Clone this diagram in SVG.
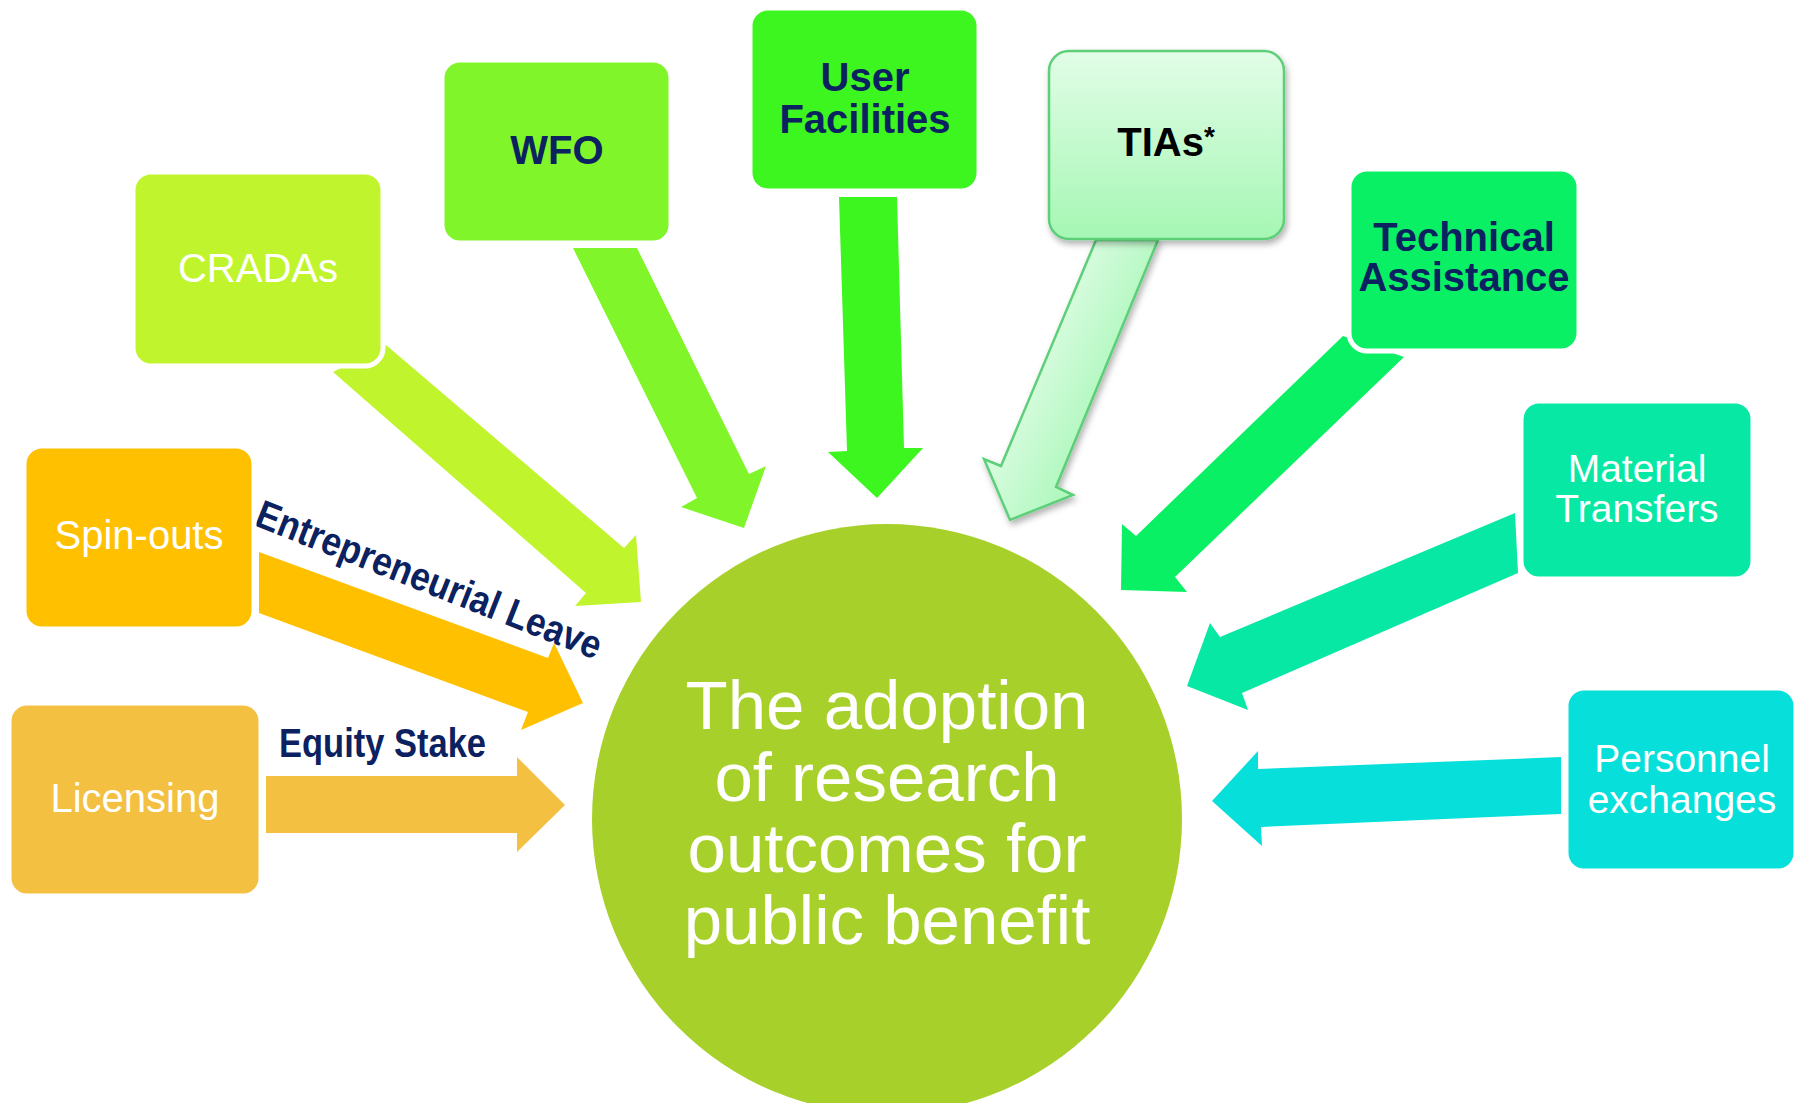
<svg xmlns="http://www.w3.org/2000/svg" width="1799" height="1103" viewBox="0 0 1799 1103">
  <defs>
    <linearGradient id="tiaBox" x1="0" y1="0" x2="0" y2="1">
      <stop offset="0" stop-color="#E2FDE7"/>
      <stop offset="1" stop-color="#A5F7B4"/>
    </linearGradient>
    <linearGradient id="tiaArrow" gradientUnits="userSpaceOnUse" x1="1000" y1="330" x2="1110" y2="380">
      <stop offset="0" stop-color="#EEFEF1"/>
      <stop offset="1" stop-color="#B2F8C0"/>
    </linearGradient>
    <filter id="shadow" x="-10%" y="-10%" width="130%" height="130%">
      <feDropShadow dx="2" dy="4" stdDeviation="3" flood-color="#000" flood-opacity="0.3"/>
    </filter>
  </defs>
  <style>
    .box { stroke: #FFFFFF; stroke-width: 5; }
    .lbl { font-family: "Liberation Sans", Arial, sans-serif; font-size: 40px; text-anchor: middle; }
    .light { fill: #FFFFFF; }
    .dark { fill: #0B2160; font-weight: bold; }
    .goal-text { font-size: 69px; }
    .small { font-size: 39px; }
    .tag { font-family: "Liberation Sans Narrow", "Liberation Sans", Arial, sans-serif; font-weight: bold; fill: #0B2160; }
  </style>

  <rect width="1799" height="1103" fill="#FFFFFF"/>

  <!-- block arrows pointing into the centre -->
  <g id="connectors">
    <polygon fill="#C0F52E" points="333,372 586,593 575,606 641,602 636,535 624,548 386,345"/>
    <polygon fill="#80F52A" points="573,248 697,498 681,507 744,528 766,466 749,474 637,248"/>
    <polygon fill="#3DF51F" points="839,197 847,451 828,452 877,498 923,448 904,448 897,197"/>
    <polygon fill="url(#tiaArrow)" stroke="#5DCF79" stroke-width="2.5" stroke-linejoin="miter" filter="url(#shadow)" points="1096,240 1001,466 984,459 1010,520 1073,495 1056,487 1158,240"/>
    <polygon fill="#0AF065" points="1343,336 1136,536 1122,524 1121,590 1187,592 1175,577 1404,357"/>
    <polygon fill="#08E8A5" points="1515,513 1220,637 1210,623 1187,686 1248,710 1242,693 1518,573"/>
    <polygon fill="#07E0DA" points="1561,757 1258,769 1258,751 1212,801 1262,846 1261,827 1561,814"/>
    <polygon fill="#FFC000" points="259,552 548,658 554,643 583,703 521,730 528,712 259,613"/>
    <polygon fill="#F4C042" points="266,776 517,776 517,757 565,805 517,852 517,833 266,833"/>
    <text class="tag" x="253" y="525" font-size="40" textLength="368" lengthAdjust="spacingAndGlyphs" transform="rotate(21.5 253 525)">Entrepreneurial Leave</text>
    <text class="tag" x="279" y="757" font-size="41" textLength="207" lengthAdjust="spacingAndGlyphs">Equity Stake</text>
  </g>

  <!-- centre goal -->
  <g id="goal">
    <circle cx="887" cy="819" r="295" fill="#A7D12A"/>
    <text class="lbl light goal-text"><tspan x="887" y="729">The adoption</tspan><tspan x="887" y="801">of research</tspan><tspan x="887" y="872">outcomes for</tspan><tspan x="887" y="944">public benefit</tspan></text>
  </g>

  <g id="cradas">
    <rect class="box" x="133" y="172" width="250" height="194" rx="18" fill="#C0F52E"/>
    <text class="lbl light" x="258" y="282">CRADAs</text>
  </g>

  <g id="wfo">
    <rect class="box" x="442" y="60" width="229" height="183" rx="18" fill="#80F52A"/>
    <text class="lbl dark" x="557" y="164">WFO</text>
  </g>

  <g id="user-facilities">
    <rect class="box" x="750" y="8" width="229" height="183" rx="18" fill="#3DF51F"/>
    <text class="lbl dark"><tspan x="865" y="91">User</tspan><tspan x="865" y="133">Facilities</tspan></text>
  </g>

  <g id="tias">
    <rect x="1049" y="51" width="235" height="188" rx="20" fill="url(#tiaBox)" stroke="#5DCF79" stroke-width="2.5" filter="url(#shadow)"/>
    <text class="lbl" x="1166" y="156" font-weight="bold" fill="#000000">TIAs<tspan font-size="28" dy="-10">*</tspan></text>
  </g>

  <g id="technical-assistance">
    <rect class="box" x="1349" y="169" width="230" height="182" rx="18" fill="#0AF065"/>
    <text class="lbl dark"><tspan x="1464" y="251">Technical</tspan><tspan x="1464" y="291">Assistance</tspan></text>
  </g>

  <g id="material-transfers">
    <rect class="box" x="1521" y="401" width="232" height="178" rx="18" fill="#08E8A5"/>
    <text class="lbl light small"><tspan x="1637" y="482">Material</tspan><tspan x="1637" y="522">Transfers</tspan></text>
  </g>

  <g id="personnel-exchanges">
    <rect class="box" x="1566" y="688" width="230" height="183" rx="18" fill="#07E0DA"/>
    <text class="lbl light small"><tspan x="1682" y="772">Personnel</tspan><tspan x="1682" y="813">exchanges</tspan></text>
  </g>

  <g id="spin-outs">
    <rect class="box" x="24" y="446" width="230" height="183" rx="18" fill="#FFC000"/>
    <text class="lbl light" x="139" y="549">Spin-outs</text>
  </g>

  <g id="licensing">
    <rect class="box" x="9" y="703" width="252" height="193" rx="18" fill="#F4C042"/>
    <text class="lbl light" x="135" y="812">Licensing</text>
  </g>
</svg>
